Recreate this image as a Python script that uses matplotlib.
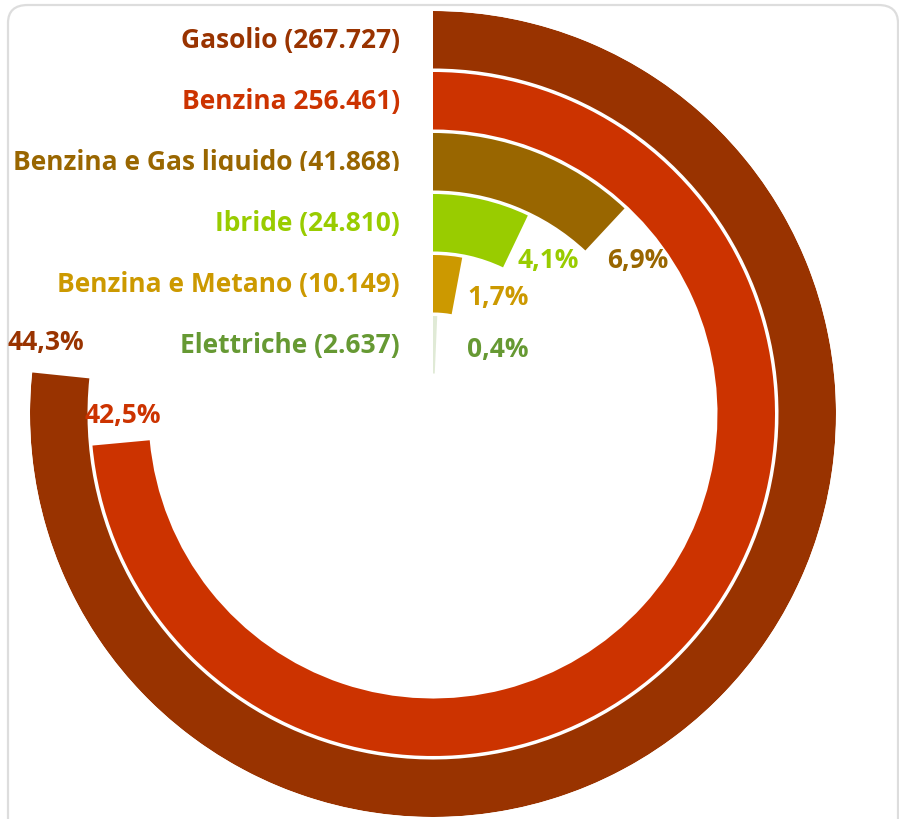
import numpy as np
import matplotlib
matplotlib.use("Agg")
import matplotlib.pyplot as plt
from matplotlib.patches import FancyBboxPatch
from matplotlib.transforms import Bbox

# dati: alimentazione auto, numero e quota %
categorie = ["Gasolio", "Benzina", "Benzina e Gas liquido", "Ibride",
             "Benzina e Metano", "Elettriche"]
etichette = ["Gasolio (267.727)", "Benzina 256.461)", "Benzina e Gas liquido (41.868)",
             "Ibride (24.810)", "Benzina e Metano (10.149)", "Elettriche (2.637)"]
percentuali = [44.3, 42.5, 6.9, 4.1, 1.7, 0.4]
etichette_pct = ["44,3%", "42,5%", "6,9%", "4,1%", "1,7%", "0,4%"]
colori = ["#993300", "#CC3300", "#996600", "#99CC00", "#CC9900", "#669933"]

MAX_Y = 57.8     # massimo dell'asse (giro completo)
R_OUT = 403      # raggio esterno in px
PASSO = 61       # distanza fra anelli
SPESS = 57.5     # spessore anello

# posizione delle etichette % rispetto alla fine della barra (px)
off_pct = [(-15, 34, "center"), (2, 28, "center"), (2, -30, "left"),
           (2, -18, "left"), (10, -11, "left"), (31, -4, "left")]

FONT = "Open Sans"
FS = 19

fig = plt.figure(figsize=(8.99, 8.2), dpi=100)

# cornice arrotondata
cornice = FancyBboxPatch((8 / 899, -20 / 820), 890 / 899, 834 / 820,
                         boxstyle="round,pad=0,rounding_size=0.022",
                         transform=fig.transFigure, facecolor="none",
                         edgecolor="#dddddd", linewidth=1.6, zorder=-1)
fig.patches.append(cornice)

cx, cy = 433, 820 - 415
ax = fig.add_axes([(cx - R_OUT) / 899, (cy - R_OUT) / 820,
                   2 * R_OUT / 899, 2 * R_OUT / 820], projection="polar")
ax.set_theta_zero_location("N")
ax.set_theta_direction(-1)
ax.set_ylim(0, R_OUT)
ax.axis("off")
ax.patch.set_alpha(0)

for i, (p, col) in enumerate(zip(percentuali, colori)):
    r_in = R_OUT - i * PASSO - SPESS
    ang = np.deg2rad(p / MAX_Y * 360)
    # l'ultimo anello nell'originale quasi non si vede
    ax.bar(0, SPESS, width=ang, bottom=r_in, align="edge", color=col,
           edgecolor="none", linewidth=0, alpha=0.2 if i == 5 else 1)

    r_mid = r_in + SPESS / 2
    # etichetta a sinistra
    t = ax.annotate(etichette[i], xy=(0, r_mid), xytext=(-33, 0),
                    textcoords="offset pixels", ha="right", va="center",
                    color=col, fontsize=FS, fontweight="bold", family=FONT,
                    annotation_clip=False)
    if i == 2:
        # l'etichetta originale e' tagliata in basso
        t.set_clip_box(Bbox([[0, 820 - 172], [899, 820]]))
        t.set_clip_on(True)

    dx, dy, ha = off_pct[i]
    ax.annotate(etichette_pct[i], xy=(ang, r_mid), xytext=(dx, dy),
                textcoords="offset pixels", ha=ha, va="center",
                color=col, fontsize=FS, fontweight="bold", family=FONT,
                annotation_clip=False)

fig.savefig("out.png", dpi=100)
